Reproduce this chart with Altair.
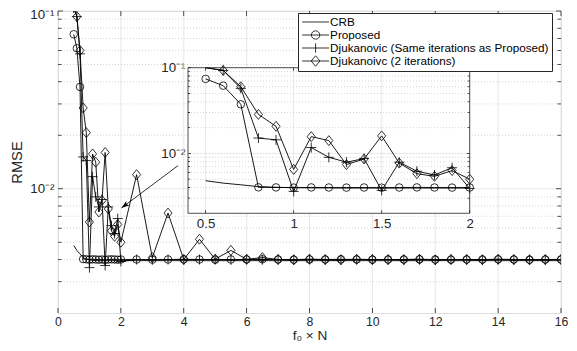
import altair as alt
import pandas as pd

# ---------------- data ----------------
series_names = ["CRB", "Proposed", "Djukanovic (Same iterations as Proposed)", "Djukanoivc (2 iterations)"]

x_vals = [0.5, 0.6, 0.7, 0.8, 0.9, 1.0, 1.1, 1.2, 1.3, 1.4, 1.5, 1.6, 1.7, 1.8, 1.9, 2.0,
          2.5, 3.0, 3.5, 4.0, 4.5, 5.0, 5.5, 6.0, 6.5, 7.0, 7.5, 8.0, 8.5, 9.0, 9.5, 10.0,
          10.5, 11.0, 11.5, 12.0, 12.5, 13.0, 13.5, 14.0, 14.5, 15.0, 15.5, 16.0]

crb = [0.0048, 0.0045, 0.0043, 0.0041, 0.00402, 0.00398, 0.00396, 0.00395,
       0.00394, 0.00394, 0.00394, 0.00394, 0.00394, 0.00394, 0.00394, 0.00394,
       0.00394, 0.00394, 0.00394, 0.00394, 0.00394, 0.00394, 0.00394, 0.00394,
       0.00394, 0.00394, 0.00394, 0.00394, 0.00394, 0.00394, 0.00394, 0.00394,
       0.00394, 0.00394, 0.00394, 0.00394, 0.00394, 0.00394, 0.00394, 0.00394,
       0.00394, 0.00394, 0.00394, 0.00394]

proposed = [0.074, 0.0617, 0.0374, 0.00402, 0.00401, 0.00399, 0.00401, 0.004,
            0.00399, 0.004, 0.00398, 0.004, 0.00401, 0.004, 0.00399, 0.004,
            0.004, 0.00399, 0.004, 0.00401, 0.004, 0.00399, 0.004, 0.004,
            0.00401, 0.004, 0.00399, 0.004, 0.004, 0.00401, 0.004, 0.00399,
            0.004, 0.004, 0.00401, 0.004, 0.00399, 0.004, 0.004, 0.00401,
            0.004, 0.00399, 0.004, 0.004]

djuk_same = [0.104, 0.093, 0.0574, 0.0151, 0.0144, 0.0036, 0.0117, 0.009,
             0.0079, 0.0087, 0.0037, 0.0079, 0.0062, 0.0056, 0.0068, 0.0039,
             0.004, 0.00398, 0.004, 0.00399, 0.004, 0.004, 0.00398, 0.004,
             0.00399, 0.004, 0.00397, 0.004, 0.00398, 0.00397, 0.004, 0.00399,
             0.004, 0.00397, 0.004, 0.00398, 0.004, 0.00399, 0.00397, 0.004,
             0.00398, 0.004, 0.00397, 0.004]

djuk_two = [0.106, 0.093, 0.06, 0.0285, 0.0207, 0.0065, 0.0157, 0.0141,
            0.0074, 0.0086, 0.016, 0.0077, 0.0058, 0.0054, 0.0063, 0.005,
            0.012, 0.0041, 0.0073, 0.004, 0.0052, 0.00402, 0.0045, 0.00401,
            0.0041, 0.004, 0.00399, 0.00402, 0.004, 0.00399, 0.00401, 0.004,
            0.00399, 0.004, 0.00401, 0.00398, 0.004, 0.004, 0.00399, 0.00401,
            0.004, 0.00398, 0.004, 0.004]

x_ticks = [0, 2, 4, 6, 8, 10, 12, 14, 16]
y_major = [0.01, 0.1]
y_minor = [0.003, 0.004, 0.005, 0.006, 0.007, 0.008, 0.009,
           0.02, 0.03, 0.04, 0.05, 0.06, 0.07, 0.08, 0.09]
inset_x_ticks = [0.5, 1.0, 1.5, 2.0]

x_dom = [0, 16]
y_dom = [0.002, 0.1]
xin_dom = [0.4, 2.0]

arrow_x = [3.82, 2.02]
arrow_y = [0.0135, 0.0078]

# ---------------- styling ----------------
FONT = "Liberation Sans"
AXC = "#262626"
GRID = "#e1e1e1"
MINOR = "#c4c4c4"

rows = []
for name, vals in zip(series_names, [crb, proposed, djuk_same, djuk_two]):
    for xv, yv in zip(x_vals, vals):
        rows.append({"s": name, "x": xv, "y": yv})
df = pd.DataFrame(rows)
df_in = df[df.x <= xin_dom[1]]
df_in_pts = df_in[df_in.y <= y_dom[1]]

xs_main = alt.Scale(domain=x_dom, nice=False, zero=False)
ys_main = alt.Scale(type="log", domain=y_dom, nice=False)
xs_in = alt.Scale(domain=xin_dom, nice=False, zero=False, range=[130, 411.7])
ys_in = alt.Scale(type="log", domain=y_dom, nice=False, clamp=True, range=[202.3, 56.7])

exp_label = "datum.value > 0.05 ? '10⁻¹' : '10⁻²'"
lab = dict(labelFont=FONT, labelColor=AXC, ticks=False, domain=False,
           grid=False, labelFlush=False, labelOverlap=False)
ax_x_main = alt.Axis(values=x_ticks, format="d", labelPadding=2, labelFontSize=12.3, title="f₀ × N",
                     titleFont=FONT, titleFontSize=13.6, titleFontWeight="normal", titleColor=AXC,
                     titlePadding=1.5, **lab)
ax_y_main = alt.Axis(values=y_major, labelExpr=exp_label, labelPadding=4, labelFontSize=13.3, title="RMSE",
                     titleFont=FONT, titleFontSize=14.7, titleFontWeight="normal", titleColor=AXC,
                     titlePadding=5,
                     labelOffset={"condition": {"test": "datum.value > 0.05", "value": 3}, "value": 0},
                     **lab)
ax_x_in = alt.Axis(values=inset_x_ticks, format="~g", orient="bottom", offset=-99.7, labelPadding=3,
                   labelFontSize=13.3, title=None, **lab)
ax_y_in = alt.Axis(values=y_major, labelExpr=exp_label, orient="left", offset=-130, labelPadding=3,
                   labelFontSize=13.3, title=None, **lab)


def mX(f):
    return alt.X(f, type="quantitative", scale=xs_main, axis=ax_x_main)


def mY(f):
    return alt.Y(f, type="quantitative", scale=ys_main, axis=ax_y_main)


def iX(f):
    return alt.X(f, type="quantitative", scale=xs_in, axis=ax_x_in)


def iY(f):
    return alt.Y(f, type="quantitative", scale=ys_in, axis=ax_y_in)


circle_path = "circle"
plus_path = "M-1,0H1M0,-1V1"
diamond_path = "M0,-1.1L0.9,0L0,1.1L-0.9,0Z"
legend_paths = [
    "M-2.45,0H2.45",
    "M-2.45,0H2.45M0.76,0A0.76,0.76 0 1,0 -0.76,0A0.76,0.76 0 1,0 0.76,0",
    "M-2.45,0H2.45M0,-0.85V0.85",
    "M-2.45,0H2.45M0,-0.95L0.8,0L0,0.95L-0.8,0Z",
]


def panel(X, Y, xd, yd, xt, data, pts, major_len, minor_len, clip):
    layers = []
    vg = pd.DataFrame({"gx": xt, "lo": yd[0], "hi": yd[1]})
    hgM = pd.DataFrame({"gy": y_major, "lo": xd[0], "hi": xd[1]})
    hgm = pd.DataFrame({"gy": y_minor, "lo": xd[0], "hi": xd[1]})
    layers.append(alt.Chart(vg).mark_rule(color=GRID, strokeWidth=0.8).encode(x=X("gx"), y=Y("lo"), y2="hi"))
    layers.append(alt.Chart(hgM).mark_rule(color=GRID, strokeWidth=0.8).encode(y=Y("gy"), x=X("lo"), x2="hi"))
    layers.append(alt.Chart(hgm).mark_rule(color=MINOR, strokeWidth=0.7, strokeDash=[1, 2]).encode(
        y=Y("gy"), x=X("lo"), x2="hi"))
    layers.append(alt.Chart(data).mark_line(color="black", strokeWidth=0.9, clip=clip).encode(
        x=X("x"), y=Y("y"), detail="s:N"))
    for name, shp, sz in [(series_names[1], circle_path, 57), (series_names[2], plus_path, 100),
                          (series_names[3], diamond_path, 81)]:
        layers.append(alt.Chart(pts[pts.s == name]).mark_point(
            shape=shp, size=sz, filled=False, color="black", strokeWidth=0.8, opacity=1, clip=clip
        ).encode(x=X("x"), y=Y("y")))
    # inward tick marks
    tl = [
        (pd.DataFrame({"tx": xd[0], "ty": y_major}), "horizontal", major_len, 1, 0),
        (pd.DataFrame({"tx": xd[0], "ty": y_minor}), "horizontal", minor_len, 1, 0),
        (pd.DataFrame({"tx": xd[1], "ty": y_major}), "horizontal", major_len, -1, 0),
        (pd.DataFrame({"tx": xd[1], "ty": y_minor}), "horizontal", minor_len, -1, 0),
        (pd.DataFrame({"tx": xt, "ty": yd[0]}), "vertical", major_len, 0, -1),
        (pd.DataFrame({"tx": xt, "ty": yd[1]}), "vertical", major_len, 0, 1),
    ]
    for tdf, orient, ln, sx, sy in tl:
        layers.append(alt.Chart(tdf).mark_tick(
            orient=orient, size=ln, thickness=0.8, color=AXC, opacity=1,
            xOffset=sx * ln / 2, yOffset=sy * ln / 2
        ).encode(x=X("tx"), y=Y("ty")))
    return layers


# ---------------- main panel ----------------
main_layers = panel(mX, mY, x_dom, y_dom, x_ticks, df, df, 5, 3.5, True)

arrow_df = pd.DataFrame({"x0": [arrow_x[0]], "y0": [arrow_y[0]], "x1": [arrow_x[1]], "y1": [arrow_y[1]]})
main_layers.append(alt.Chart(arrow_df).mark_rule(color="black", strokeWidth=0.8).encode(
    x=mX("x0"), y=mY("y0"), x2="x1", y2="y1"))
main_layers.append(alt.Chart(arrow_df).mark_point(
    shape="M0,0L-1.6,-0.55L-1.2,0L-1.6,0.55Z", size=100, filled=True, color="black", opacity=1, angle=143
).encode(x=mX("x1"), y=mY("y1")))

legend = alt.Legend(
    title=None, orient="none", legendX=240, legendY=2, symbolSize=121, symbolStrokeWidth=0.8,
    symbolStrokeColor="black", symbolFillColor="transparent", symbolOpacity=1, symbolOffset=8.6,
    labelOffset=8.5, labelFont=FONT, labelFontSize=11.7, labelColor="black", labelLimit=400,
    padding=3, strokeColor=AXC, fillColor="white", rowPadding=-1.3, cornerRadius=0)
main_layers.append(alt.Chart(df).mark_point(opacity=0, filled=False, color="black", strokeWidth=0.8,
                                            size=121, clip=True).encode(
    x=mX("x"), y=mY("y"),
    shape=alt.Shape("s:N", scale=alt.Scale(domain=series_names, range=legend_paths), legend=legend)))

main = alt.layer(*main_layers)

# ---------------- inset panel ----------------
box_df = pd.DataFrame({"x0": [xin_dom[0]], "x1": [xin_dom[1]], "y0": [y_dom[0]], "y1": [y_dom[1]]})
inset_layers = [alt.Chart(box_df).mark_rect(fill="white", strokeWidth=0).encode(
    x=iX("x0"), x2="x1", y=iY("y0"), y2="y1")]
inset_layers += panel(iX, iY, xin_dom, y_dom, inset_x_ticks, df_in, df_in_pts, 3, 2, False)
inset_layers.append(alt.Chart(box_df).mark_rect(filled=False, color=AXC, strokeWidth=0.8).encode(
    x=iX("x0"), x2="x1", y=iY("y0"), y2="y1"))
inset = alt.layer(*inset_layers)

chart = alt.layer(main, inset).resolve_scale(x="independent", y="independent").properties(
    width=503, height=302,
    autosize=alt.AutoSizeParams(type="none"),
    padding={"left": 50, "top": 3, "right": 8, "bottom": 30},
    background="white",
).configure_view(stroke=AXC, strokeWidth=0.8).configure(font=FONT)

chart.save("out.html", embed_options={"renderer": "svg", "actions": False})
